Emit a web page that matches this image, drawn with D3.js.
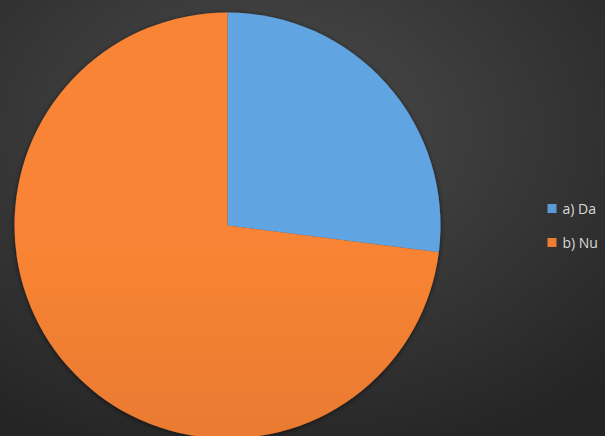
<!DOCTYPE html>
<html>
<head>
<meta charset="utf-8">
<script src="https://cdn.jsdelivr.net/npm/d3@7"></script>
<style>
  body { margin: 0; background: #333; }
  svg { display: block; }
</style>
</head>
<body>
<div id="chart"></div>
<script>
// Chart data
const labels = ["a) Da", "b) Nu"];
const values = [27, 73];
const colors = ["#5B9BD5", "#ED7D31"];

const width = 605, height = 436;
const cx = 227.5, cy = 225.5, radius = 213;

const svg = d3.select("#chart").append("svg")
  .attr("width", width)
  .attr("height", height);

const defs = svg.append("defs");

// Dark radial background
const bg = defs.append("radialGradient")
  .attr("id", "bg")
  .attr("cx", "45%").attr("cy", "30%").attr("r", "80%");
bg.append("stop").attr("offset", "0%").attr("stop-color", "#4c4c4c");
bg.append("stop").attr("offset", "100%").attr("stop-color", "#242424");

svg.append("rect")
  .attr("width", width)
  .attr("height", height)
  .attr("fill", "url(#bg)");

// Slice gradients (a little lighter at top, darker at bottom)
colors.forEach((c, i) => {
  const g = defs.append("linearGradient")
    .attr("id", "slice" + i)
    .attr("gradientUnits", "userSpaceOnUse")
    .attr("x1", 0).attr("y1", cy - radius)
    .attr("x2", 0).attr("y2", cy + radius);
  g.append("stop").attr("offset", "0%").attr("stop-color", d3.color(c).brighter(0.15));
  g.append("stop").attr("offset", "100%").attr("stop-color", d3.color(c).darker(0.3));
});

// Soft shadow under the pie
const shadow = defs.append("filter")
  .attr("id", "shadow")
  .attr("x", "-10%").attr("y", "-10%").attr("width", "120%").attr("height", "120%");
shadow.append("feDropShadow")
  .attr("dx", 0).attr("dy", 1)
  .attr("stdDeviation", 2.5)
  .attr("flood-color", "#000")
  .attr("flood-opacity", 0.6);

const pie = d3.pie().sort(null).value(d => d);
const arc = d3.arc().innerRadius(0).outerRadius(radius);

const g = svg.append("g")
  .attr("transform", `translate(${cx},${cy})`)
  .attr("filter", "url(#shadow)");

g.selectAll("path")
  .data(pie(values))
  .join("path")
  .attr("d", arc)
  .attr("fill", (d, i) => `url(#slice${i})`);

// Legend
const legendY = d3.scalePoint()
  .domain(labels)
  .range([208.5, 242.5]);

const legend = svg.append("g")
  .selectAll("g")
  .data(labels)
  .join("g")
  .attr("transform", d => `translate(547.5,${legendY(d)})`);

legend.append("rect")
  .attr("x", 0)
  .attr("y", -4.5)
  .attr("width", 9)
  .attr("height", 9)
  .attr("fill", (d, i) => colors[i]);

legend.append("text")
  .attr("x", 15)
  .attr("y", 5)
  .style("font-family", "'Liberation Sans Narrow', 'Open Sans', sans-serif")
  .style("font-size", "14px")
  .style("fill", "#d9d9d9")
  .text(d => d);
</script>
</body>
</html>
